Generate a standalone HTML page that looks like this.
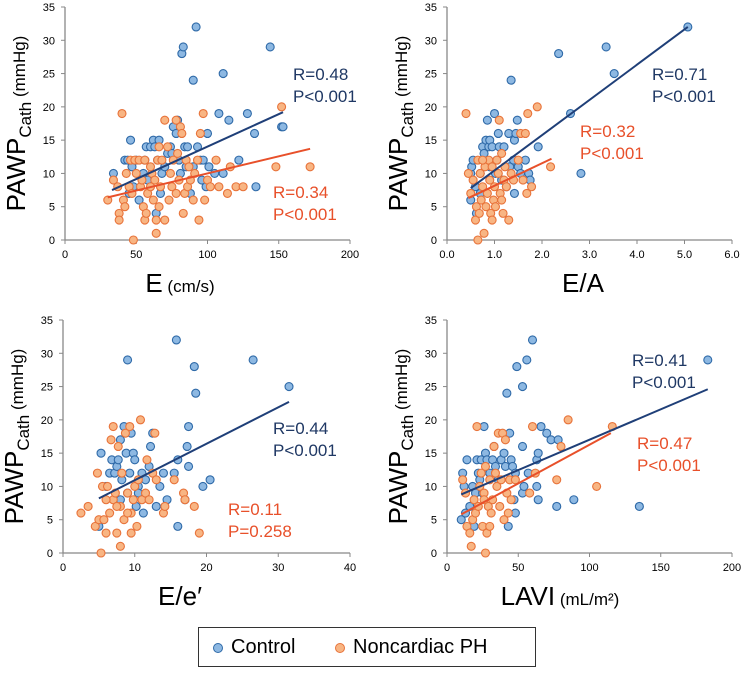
<!DOCTYPE html>
<html><head><meta charset="utf-8">
<style>
body{margin:0;background:#fff;}
svg{display:block;font-family:"Liberation Sans",Arial,sans-serif;}
</style></head>
<body>
<svg id="c" width="742" height="681" viewBox="0 0 742 681"></svg>
<script>
// Panel 1: E (cm/s)
const p1Control=[[34,10],[42,12],[44,12],[46,15],[47,11],[48,8],[50,12],[52,6],[56,12],[57,14],[60,14],[62,15],[63,14],[66,15],[64,4],[67,7],[68,10],[72,13],[74,14],[76,17],[78,16],[79,18],[81,10],[82,28],[83,29],[84,14],[86,14],[88,7],[90,24],[92,32],[93,14],[95,12],[97,12],[99,8],[100,16],[101,11],[105,10],[108,19],[111,10],[111,25],[115,18],[122,12],[128,19],[133,16],[134,8],[144,29],[152,17],[153,17],[70,11],[58,9],[75,13],[85,11],[90,11],[96,9],[45,7],[55,10],[65,12],[80,12]];
const p1Noncardiac=[[30,6],[34,9],[37,8],[38,4],[38,3],[40,19],[41,6],[42,5],[43,10],[45,8],[46,12],[47,7],[48,0],[49,12],[50,10],[52,12],[53,8],[54,9],[55,5],[56,3],[56,12],[57,4],[58,7],[60,8],[61,10],[62,6],[63,9],[64,1],[64,3],[65,12],[66,5],[67,8],[68,12],[70,3],[70,18],[72,14],[73,6],[74,10],[75,8],[76,12],[78,18],[79,13],[80,9],[81,17],[82,16],[83,4],[84,7],[85,12],[86,8],[88,9],[90,6],[91,10],[93,12],[94,3],[95,16],[97,19],[98,6],[100,9],[102,8],[106,12],[108,8],[114,7],[116,11],[120,8],[125,8],[148,11],[152,20],[172,11],[60,11],[66,14],[78,7],[87,11]];
const p1Fits=[[33,7.5,153,19.2],[30,6.4,172,13.7]];
// Panel 2: E/A
const p2Control=[[0.5,10],[0.5,6],[0.52,11],[0.55,12],[0.6,8],[0.62,4],[0.7,7],[0.75,14],[0.78,13],[0.82,15],[0.85,18],[0.88,14],[0.9,15],[0.95,14],[1.0,19],[1.02,10],[1.05,12],[1.08,16],[1.1,14],[1.2,14],[1.25,8],[1.3,16],[1.32,11],[1.35,24],[1.4,12],[1.42,15],[1.42,7],[1.45,16],[1.48,18],[1.5,11],[1.55,10],[1.65,12],[1.72,10],[1.75,9],[1.92,14],[2.35,28],[2.6,19],[2.82,10],[3.35,29],[3.52,25],[5.07,32],[0.9,11],[1.15,9],[0.7,10]];
const p2Noncardiac=[[0.4,19],[0.45,10],[0.5,7],[0.55,9],[0.6,3],[0.62,5],[0.65,0],[0.65,12],[0.68,4],[0.7,10],[0.72,6],[0.75,8],[0.78,1],[0.8,11],[0.82,5],[0.85,7],[0.88,12],[0.9,9],[0.92,4],[0.95,3],[0.98,6],[1.0,8],[1.02,5],[1.05,12],[1.08,10],[1.1,18],[1.12,7],[1.15,13],[1.18,4],[1.2,9],[1.22,11],[1.25,8],[1.3,3],[1.35,10],[1.4,9],[1.5,12],[1.55,16],[1.6,9],[1.65,16],[1.68,7],[1.7,19],[1.78,8],[1.9,20],[2.18,11],[0.75,12],[0.95,11],[1.15,6]];
const p2Fits=[[0.5,7.8,5.07,32],[0.45,6.3,2.2,12.2]];
// Panel 3: E/e'
const p3Control=[[5,4],[5.3,15],[6,10],[6.5,12],[6.8,14],[7.2,12],[7.5,13],[7.7,14],[8,17],[8.2,11],[8.5,19],[8.8,15],[9,29],[9.3,12],[9.5,18],[9.8,15],[10,14],[10.2,7],[10.5,10],[11,12],[11.2,6],[11.5,11],[12,13],[12.2,16],[12.5,18],[13,7],[13.5,10],[14,12],[14.5,8],[15.5,12],[15.8,32],[16,14],[16,4],[17,8],[17.3,16],[17.5,13],[17.5,19],[18.3,28],[18.5,24],[19.5,10],[20.5,11],[26.5,29],[31.5,25],[8,8],[9,9],[10.5,9]];
const p3Noncardiac=[[2.5,6],[3.5,7],[4.5,4],[4.8,12],[5,5],[5.3,0],[5.5,10],[5.7,5],[6,3],[6.2,10],[6.5,6],[6.7,17],[7,19],[7,8],[7.3,9],[7.5,3],[7.7,16],[8,1],[8,7],[8.2,12],[8.5,5],[8.7,18],[9,9],[9.3,19],[9.5,6],[9.5,3],[9.8,8],[10,10],[10.3,4],[10.5,11],[10.8,20],[11,8],[11.5,9],[11.7,14],[12,8],[12.5,12],[12.8,18],[13,11],[14,6],[14.2,7],[15.5,11],[16.8,9],[17,8],[18.3,7],[19,3],[6,8],[7.5,7],[9,6]];
const p3Fits=[[5,8.2,31.5,22.7]];
// Panel 4: LAVI
const p4Control=[[10,5],[11,12],[12,10],[13,6],[14,14],[16,7],[18,10],[19,4],[20,9],[21,14],[22,12],[23,11],[24,14],[25,9],[26,19],[27,15],[28,14],[30,12],[32,14],[33,16],[34,13],[36,11],[38,14],[40,15],[41,13],[42,24],[43,4],[44,18],[45,14],[46,13],[47,8],[48,6],[48,12],[49,28],[53,16],[53,9],[53,25],[54,10],[56,29],[57,12],[60,32],[63,14],[63,10],[64,8],[64,15],[66,19],[70,18],[73,17],[77,7],[78,17],[89,8],[135,7],[183,29]];
const p4Noncardiac=[[11,11],[13,9],[14,4],[16,3],[17,1],[18,5],[19,8],[20,6],[21,19],[22,7],[23,10],[24,12],[25,4],[26,9],[27,0],[27,13],[28,3],[29,7],[30,11],[31,6],[32,8],[33,16],[34,12],[35,10],[36,18],[37,7],[38,11],[39,18],[40,5],[41,17],[42,9],[43,6],[44,11],[45,8],[48,11],[58,9],[60,19],[62,12],[77,11],[80,16],[85,20],[105,10],[116,19],[30,4],[26,8]];
const p4Fits=[[10,8.8,183,24.6],[10,5.8,115,18]];

const NS='http://www.w3.org/2000/svg';
const svg=document.getElementById('c');
function mk(tag,attrs,parent){const e=document.createElementNS(NS,tag);for(const k in attrs)e.setAttribute(k,attrs[k]);(parent||svg).appendChild(e);return e;}

const panels=[
 {id:'e',x0:65,x1:350,y0:240,y1:7,xmax:200,xticks:[0,50,100,150,200],dec:0,ctrl:p1Control,nc:p1Noncardiac,fits:p1Fits,title:'E',unit:' (cm/s)',tx:180,ty:292,
  lab:[[293,80,'R=0.48','P<0.001','#1f3864'],[273,198,'R=0.34','P<0.001','#e8502a']]},
 {id:'ea',x0:447,x1:732,y0:240,y1:7,xmax:6,xticks:[0,1,2,3,4,5,6],dec:1,ctrl:p2Control,nc:p2Noncardiac,fits:p2Fits,title:'E/A',unit:'',tx:583,ty:292,
  lab:[[652,80,'R=0.71','P<0.001','#1f3864'],[580,137,'R=0.32','P<0.001','#e8502a']]},
 {id:'ee',x0:63,x1:350,y0:553,y1:320,xmax:40,xticks:[0,10,20,30,40],dec:0,ctrl:p3Control,nc:p3Noncardiac,fits:p3Fits,title:'E/e′',unit:'',tx:180,ty:605,
  lab:[[273,434,'R=0.44','P<0.001','#1f3864'],[228,515,'R=0.11','P=0.258','#e8502a']]},
 {id:'lavi',x0:447,x1:732,y0:553,y1:320,xmax:200,xticks:[0,50,100,150,200],dec:0,ctrl:p4Control,nc:p4Noncardiac,fits:p4Fits,title:'LAVI',unit:' (mL/m²)',tx:560,ty:605,
  lab:[[632,366,'R=0.41','P<0.001','#1f3864'],[637,449,'R=0.47','P<0.001','#e8502a']]}
];
const yticks=[0,5,10,15,20,25,30,35];
panels.forEach(p=>{
  const g=mk('g',{});
  
  
  const sx=v=>p.x0+(p.x1-p.x0)*v/p.xmax;
  const sy=v=>p.y0+(p.y1-p.y0)*v/35;
  const ax=mk('path',{d:`M${p.x0},${p.y1}V${p.y0}H${p.x1}`,fill:'none',stroke:'#888','stroke-width':1.3},g);
  
  
  yticks.forEach(t=>{
    mk('line',{x1:p.x0-4,x2:p.x0,y1:sy(t),y2:sy(t),stroke:'#888'},g);
    const tt=mk('text',{x:p.x0-10,y:sy(t)+4,'text-anchor':'end','font-size':11},g);
    tt.textContent=t;
    
    
  });
  p.xticks.forEach(t=>{
    mk('line',{x1:sx(t),x2:sx(t),y1:p.y0,y2:p.y0+4,stroke:'#888'},g);
    const tt=mk('text',{x:sx(t),y:p.y0+18,'text-anchor':'middle','font-size':11},g);
    tt.textContent=t.toFixed(p.dec);
    
    
  });
  p.ctrl.forEach(d=>{
    const c=mk('circle',{cx:sx(d[0]),cy:sy(d[1]),r:4,fill:'#8db8e2',stroke:'#2f6aa8','stroke-width':1.1},g);
    
    
  });
  p.nc.forEach(d=>{
    const c=mk('circle',{cx:sx(d[0]),cy:sy(d[1]),r:4,fill:'#f8b583',stroke:'#e8733a','stroke-width':1.1},g);
    
    
  });
  p.fits.forEach((f,i)=>{
    const l=mk('line',{x1:sx(f[0]),y1:sy(f[1]),x2:sx(f[2]),y2:sy(f[3]),stroke:i==0?'#1f3f78':'#e8502a','stroke-width':2},g);
    
    
  });
  p.lab.forEach(L=>{
    const t=mk('text',{x:L[0],y:L[1],'font-size':17,fill:L[4]},g);
    
    
    const a=mk('tspan',{x:L[0]},t);a.textContent=L[2];
    const b=mk('tspan',{x:L[0],dy:22},t);b.textContent=L[3];
  });
  const xt=mk('text',{x:p.tx,y:p.ty,'text-anchor':'middle','font-size':26},g);
  
  
  const a=mk('tspan',{},xt);a.textContent=p.title;
  if(p.unit){const b=mk('tspan',{'font-size':17},xt);b.textContent=p.unit;}
  const cy=(p.y0+p.y1)/2, cx=p.x0-40;
  const yt=mk('text',{x:0,y:0,'text-anchor':'middle','font-size':26,transform:`translate(${cx},${cy}) rotate(-90)`},g);
  
  
  const s1=mk('tspan',{},yt);s1.textContent='PAWP';
  const s2=mk('tspan',{'font-size':17,dy:6},yt);s2.textContent='Cath';
  const s3=mk('tspan',{'font-size':17,dy:-6},yt);s3.textContent=' (mmHg)';
});
</script>
<div style="position:absolute;left:198px;top:627px;width:338px;height:40px;border:1px solid #333;box-sizing:border-box;font-family:'Liberation Sans',sans-serif;font-size:20px;">
  <span style="position:absolute;left:14px;top:8px;"><span style="display:inline-block;width:8px;height:8px;border-radius:50%;background:#8db8e2;border:1px solid #2f6aa8;margin-right:8px;vertical-align:middle;"></span>Control</span>
  <span style="position:absolute;left:136px;top:8px;"><span style="display:inline-block;width:8px;height:8px;border-radius:50%;background:#f8b583;border:1px solid #e8733a;margin-right:8px;vertical-align:middle;"></span>Noncardiac PH</span>
</div>
</body></html>
